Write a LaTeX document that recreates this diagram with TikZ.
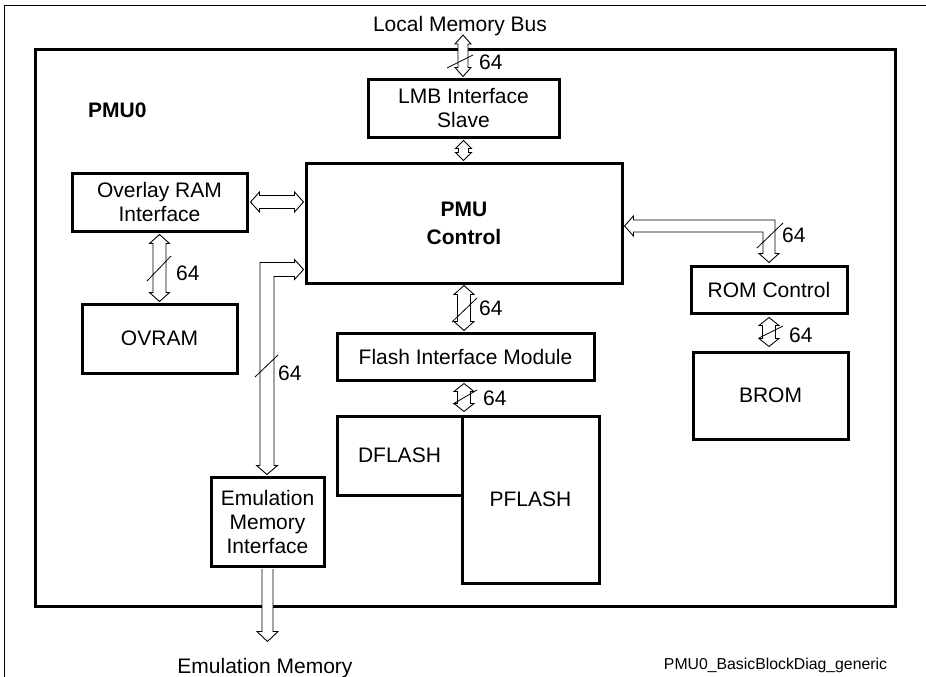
\documentclass[tikz,border=0pt]{standalone}
\usepackage{fontspec}
\setmainfont{Liberation Sans}
\usetikzlibrary{calc}
\newcommand\fsmain{\fontsize{21}{24}\selectfont}
\tikzset{
  blk/.style={draw, line width=3pt, rectangle, inner sep=0pt, align=center, font=\fsmain},
  barrow/.style={draw, fill=white, line width=0.9pt, line join=miter},
  slash/.style={line width=0.8pt},
  lbl/.style={inner sep=0pt, font=\fsmain},
  num/.style={lbl, anchor=base west},
}
% vertical double arrow: top tip, bottom tip, half shaft, half head, head length
\newcommand\vbi[5]{\path[barrow] let \p1=#1, \p2=#2 in
  (\x1,\y1) -- (\x1+#4,\y1-#5) -- (\x1+#3,\y1-#5) -- (\x1+#3,\y2+#5) -- (\x1+#4,\y2+#5) --
  (\x1,\y2) -- (\x1-#4,\y2+#5) -- (\x1-#3,\y2+#5) -- (\x1-#3,\y1-#5) -- (\x1-#4,\y1-#5) -- cycle;}
% horizontal double arrow: left tip, right tip, half shaft, half head, head length
\newcommand\hbi[5]{\path[barrow] let \p1=#1, \p2=#2 in
  (\x1,\y1) -- (\x1+#5,\y1+#4) -- (\x1+#5,\y1+#3) -- (\x2-#5,\y1+#3) -- (\x2-#5,\y1+#4) --
  (\x2,\y1) -- (\x2-#5,\y1-#4) -- (\x2-#5,\y1-#3) -- (\x1+#5,\y1-#3) -- (\x1+#5,\y1-#4) -- cycle;}
\begin{document}
\begin{tikzpicture}[x=1pt,y=-1pt]
\useasboundingbox (0,0) rectangle (926,677);
% outer frame
\draw[line width=1pt] (4,677) -- (4,6) -- (926,6);
% main box
\node[draw, line width=3pt, inner sep=0pt, minimum width=860pt, minimum height=556pt] (main) at (465,328) {};
\node[lbl, anchor=base west, font=\fsmain\bfseries] (pmu0) at (88,117) {PMU0};

% blocks
\node[blk, minimum width=191pt, minimum height=58pt] (lmb) at (463.5,108) {LMB Interface\\Slave};
\node[blk, minimum width=316pt, minimum height=120pt, font=\fontsize{21}{28}\selectfont\bfseries] (pmu) at (464,223) {PMU\\Control};
\node[blk, minimum width=175pt, minimum height=58pt] (ovl) at (159.5,202) {Overlay RAM\\Interface};
\node[blk, minimum width=155pt, minimum height=69pt] (ovram) at (159.5,338.5) {OVRAM};
\node[blk, minimum width=156pt, minimum height=47pt] (rom) at (769,289.5) {ROM Control};
\node[blk, minimum width=155pt, minimum height=87pt] (brom) at (770.5,395.5) {BROM};
\node[blk, minimum width=257pt, minimum height=47pt] (fim) at (465.5,356.5) {Flash Interface Module};
\node[blk, minimum width=125pt, minimum height=79pt] (dflash) at (399.5,455.5) {DFLASH};
\node[blk, minimum width=137pt, minimum height=167pt] (pflash) at (530.5,499.5) {PFLASH};
\node[blk, minimum width=113pt, minimum height=89pt] (emi) at (267.5,521.5) {Emulation\\Memory\\Interface};

% texts outside
\node[lbl, anchor=base] (lmbtxt) at (460,32) {Local Memory Bus};
\node[lbl, anchor=base] (emtxt) at (265,673) {Emulation Memory};
\node[inner sep=0pt, anchor=base, font=\fontsize{15.8}{18}\selectfont] (fig) at (775.5,669) {PMU0\_BasicBlockDiag\_generic};

% coordinates
\coordinate (bustop) at (463,35);
\coordinate (emcorner) at (267,269.5);
\coordinate (romcorner) at (769,226);

% block arrows
\vbi{(bustop)}{($(lmb.north)+(0,-1)$)}{5pt}{8pt}{9pt}
\vbi{($(lmb.south)+(0,2)$)}{($(pmu.north)+(0,-1)$)}{5pt}{8pt}{8pt}
\hbi{($(ovl.east)+(2,0)$)}{($(pmu.west |- ovl.east)+(-1,0)$)}{6.5pt}{10pt}{9pt}
\vbi{($(ovl.south)+(0,2)$)}{($(ovram.north)+(0,-1)$)}{6.5pt}{10pt}{9pt}
\vbi{($(pmu.south)+(0,1)$)}{($(fim.north -| pmu.south)+(0,-1)$)}{6.5pt}{10pt}{9pt}
\vbi{($(fim.south -| pmu.south)+(0,2)$)}{($(dflash.north -| pmu.south)+(0,-3)$)}{6.5pt}{10pt}{8pt}
\vbi{($(rom.south)+(0,3)$)}{($(brom.north)+(0,-4)$)}{6.5pt}{10pt}{8pt}
% emulation L arrow (to PMU and to EMI)
\path[barrow] let \p1=($(pmu.west |- emcorner)+(-1,0)$), \p2=($(emi.north -| emcorner)+(0,-1)$) in
  (\x1,\y1) -- (\x1-9pt,\y1+10pt) -- (\x1-9pt,\y1+7pt) -- (\x2-7pt,\y1+7pt) -- (\x2-7pt,\y2+9pt) --
  (\x2-10.5pt,\y2+9pt) -- (\x2,\y2) -- (\x2+10.5pt,\y2+9pt) -- (\x2+7pt,\y2+9pt) -- (\x2+7pt,\y1-7pt) --
  (\x1-9pt,\y1-7pt) -- (\x1-9pt,\y1-10pt) -- cycle;
% ROM L arrow (to PMU and to ROM Control)
\path[barrow] let \p1=($(pmu.east |- romcorner)+(1,0)$), \p2=($(rom.north)+(0,-2)$) in
  (\x1,\y1) -- (\x1+9pt,\y1+10pt) -- (\x1+9pt,\y1+6pt) -- (\x2+6pt,\y1+6pt) -- (\x2+6pt,\y2+9pt) --
  (\x2+10pt,\y2+9pt) -- (\x2,\y2) -- (\x2-10pt,\y2+9pt) -- (\x2-6pt,\y2+9pt) -- (\x2-6pt,\y1-6pt) --
  (\x1+9pt,\y1-6pt) -- (\x1+9pt,\y1-10pt) -- cycle;
% EMI down to emulation memory
\coordinate (emtip) at ($(emi.south)+(0,74)$);
\path[barrow] let \p1=($(emi.south)+(0,1.5)$), \p2=(emtip) in
  (\x1-5.5pt,\y1) -- (\x1-5.5pt,\y2+10pt) -- (\x1-10.5pt,\y2+10pt) -- (\x1,\y2) --
  (\x1+10.5pt,\y2+10pt) -- (\x1+5.5pt,\y2+10pt) -- (\x1+5.5pt,\y1);

% slashes
\draw[slash] (447,68) -- (473,55);
\draw[slash] (147,281) -- (171,256);
\draw[slash] (255,377) -- (278,355);
\draw[slash] (757,248) -- (783,223);
\draw[slash] (452,322) -- (477,298);
\draw[slash] (453,404) -- (477,390);
\draw[slash] (759,338) -- (783,326);

% bus widths
\node[num] (n1) at (479,70) {64};
\node[num] (n2) at (176,280) {64};
\node[num] (n3) at (278,380) {64};
\node[num] (n4) at (782,242) {64};
\node[num] (n5) at (479,315) {64};
\node[num] (n6) at (483,405) {64};
\node[num] (n7) at (789,342) {64};
\end{tikzpicture}
\end{document}
